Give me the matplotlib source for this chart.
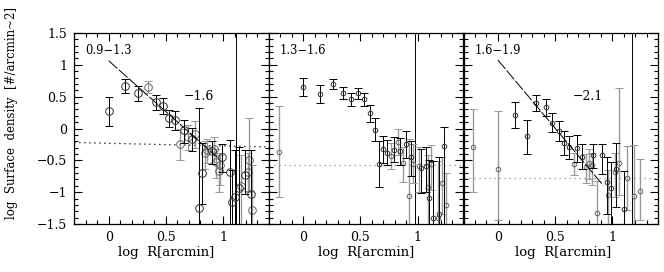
import matplotlib
matplotlib.use("Agg")
import matplotlib.pyplot as plt
from matplotlib.ticker import MultipleLocator, FixedLocator
import numpy as np

plt.rcParams['font.family'] = ['DejaVu Serif']

# ---------------- data ----------------
p1_black_x = [0.00, 0.146, 0.254, 0.414, 0.478, 0.528, 0.58, 0.66, 0.726, 0.793, 0.816, 0.90, 0.99, 1.06, 1.075, 1.105, 1.143, 1.19, 1.242]
p1_black_y = [0.27, 0.67, 0.55, 0.41, 0.36, 0.16, 0.13, -0.03, -0.16, -1.25, -0.70, -0.36, -0.44, -0.68, -1.15, -1.08, -0.94, -0.73, -1.03]
p1_black_lo = [0.23, 0.12, 0.12, 0.12, 0.14, 0.14, 0.16, 0.19, 0.20, 1.0, 0.48, 0.20, 0.25, 2.0, 2.0, 2.0, 2.0, 0.30, 2.0]
p1_black_hi = [0.23, 0.11, 0.12, 0.12, 0.12, 0.13, 0.14, 0.17, 0.17, 1.57, 0.48, 0.16, 0.20, 0.50, 0.50, 0.75, 0.65, 0.40, 0.70]
p1_gray_x = [0.342, 0.624, 0.697, 0.755, 0.84, 0.86, 0.92, 0.94, 0.962, 0.975, 1.155, 1.22, 1.23, 1.253]
p1_gray_y = [0.65, -0.24, -0.14, -0.09, -0.39, -0.34, -0.32, -0.52, -0.67, -0.58, -0.91, -0.68, -0.49, -1.28]
p1_gray_lo = [0.09, 0.26, 0.20, 0.22, 0.25, 0.20, 0.20, 0.25, 0.33, 0.30, 2.0, 0.30, 0.50, 2.0]
p1_gray_hi = [0.09, 0.24, 0.19, 0.20, 0.20, 0.18, 0.18, 0.20, 0.25, 0.20, 0.50, 0.30, 0.65, 0.70]

p2_black_x = [0.0, 0.149, 0.256, 0.347, 0.417, 0.478, 0.533, 0.58, 0.623, 0.664, 0.70, 0.735, 0.795, 0.848, 0.90, 0.94, 1.03, 1.07, 1.10, 1.134, 1.19, 1.23]
p2_black_y = [0.65, 0.54, 0.70, 0.56, 0.46, 0.55, 0.46, 0.24, -0.02, -0.56, -0.32, -0.38, -0.33, -0.35, -0.24, -0.44, -0.62, -0.59, -1.09, -1.41, -1.35, -0.27]
p2_black_lo = [0.14, 0.14, 0.08, 0.10, 0.11, 0.09, 0.10, 0.14, 0.18, 0.36, 0.22, 0.20, 0.20, 0.22, 0.22, 0.30, 0.40, 0.40, 2.0, 2.0, 2.0, 2.0]
p2_black_hi = [0.14, 0.14, 0.08, 0.09, 0.10, 0.09, 0.10, 0.13, 0.19, 0.36, 0.21, 0.20, 0.20, 0.20, 0.20, 0.25, 0.30, 0.30, 0.60, 0.90, 0.90, 0.30]
p2_gray_x = [-0.216, 0.765, 0.825, 0.87, 0.92, 0.96, 1.01, 1.09, 1.12, 1.18, 1.21, 1.25]
p2_gray_y = [-0.37, -0.43, -0.21, -0.54, -1.06, -0.55, -0.59, -0.92, -0.56, -1.41, -0.85, -1.20]
p2_gray_lo = [0.71, 0.20, 0.20, 0.30, 2.0, 0.30, 0.40, 0.60, 0.40, 2.0, 0.50, 2.0]
p2_gray_hi = [0.72, 0.20, 0.20, 0.25, 0.90, 0.30, 0.30, 0.50, 0.30, 0.90, 0.40, 0.50]

p3_black_x = [0.146, 0.254, 0.336, 0.417, 0.472, 0.531, 0.577, 0.62, 0.694, 0.734, 0.835, 0.912, 0.953, 0.99, 1.035, 1.099]
p3_black_y = [0.21, -0.12, 0.40, 0.33, 0.09, -0.04, -0.23, -0.29, -0.31, -0.44, -0.42, -0.42, -0.84, -0.93, -0.63, -1.26]
p3_black_lo = [0.20, 0.28, 0.12, 0.13, 0.15, 0.16, 0.19, 0.19, 0.21, 0.20, 0.20, 0.30, 0.50, 2.0, 0.60, 2.0]
p3_black_hi = [0.20, 0.26, 0.13, 0.13, 0.15, 0.16, 0.19, 0.18, 0.21, 0.20, 0.18, 0.18, 0.40, 0.40, 0.40, 0.60]
p3_gray_x = [-0.22, 0.0, 0.662, 0.767, 0.796, 0.82, 0.869, 0.965, 1.02, 1.06, 1.13, 1.187, 1.239]
p3_gray_y = [-0.29, -0.63, -0.56, -0.60, -0.54, -0.58, -1.32, -1.05, -0.68, -0.54, -0.78, -1.06, -0.98]
p3_gray_lo = [0.71, 0.81, 0.17, 0.25, 0.25, 0.30, 2.0, 0.50, 0.40, 0.50, 0.50, 2.0, 0.45]
p3_gray_hi = [0.59, 0.90, 0.18, 0.20, 0.22, 0.20, 0.50, 0.40, 0.30, 1.18, 0.50, 0.80, 0.50]

panel_labels = ["0.9\u22121.3", "1.3\u22121.6", "1.6\u22121.9"]
slope_labels = ["\u22121.6", None, "\u22122.1"]
fit_slope = [-1.6, None, -2.14]
fit_icpt = [1.065, None, 1.076]
fit_xmax = [0.95, None, 0.92]
bg_x = [[-0.3, 1.4], [-0.3, 1.4], [-0.3, 1.4]]
bg_y = [[-0.22, -0.29], [-0.58, -0.58], [-0.77, -0.77]]
bg_color = ['black', '0.55', '0.55']
vline_x = [1.11, 0.98, 1.17]

xticks_major = [0, 0.5, 1]
xtick_labels = ["0", "0.5", "1"]
yticks_major = [-1.5, -1, -0.5, 0, 0.5, 1, 1.5]
ytick_labels = ["\u22121.5", "\u22121", "\u22120.5", "0", "0.5", "1", "1.5"]

data = [
    (p1_black_x, p1_black_y, p1_black_lo, p1_black_hi, p1_gray_x, p1_gray_y, p1_gray_lo, p1_gray_hi),
    (p2_black_x, p2_black_y, p2_black_lo, p2_black_hi, p2_gray_x, p2_gray_y, p2_gray_lo, p2_gray_hi),
    (p3_black_x, p3_black_y, p3_black_lo, p3_black_hi, p3_gray_x, p3_gray_y, p3_gray_lo, p3_gray_hi),
]

# ---------------- figure ----------------
fig = plt.figure(figsize=(6.64, 2.72), dpi=100)
W, H = 664.0, 272.0
left_px, top_px, bot_px = 74.3, 33.0, 224.0
pw = 194.6
fs = 9.0
fs_txt = 8.3
marker_sizes = [5.5, 3.3, 3.3]
xlabel_x = [0.47, 0.50, 0.51]

for i in range(3):
    ax = fig.add_axes([(left_px + i * pw) / W, 1 - bot_px / H, pw / W, (bot_px - top_px) / H])
    bx, by, blo, bhi, gx, gy, glo, ghi = data[i]
    ax.errorbar(gx, gy, yerr=[glo, ghi], fmt='o', ms=marker_sizes[i], mfc='none', mec='0.4',
                mew=0.7, ecolor='0.6', elinewidth=1.0, capsize=2.8, capthick=1.0, zorder=3)
    ax.errorbar(bx, by, yerr=[blo, bhi], fmt='o', ms=marker_sizes[i], mfc='none', mec='0.2',
                mew=0.7, ecolor='black', elinewidth=0.7, capsize=2.8, capthick=0.7, zorder=4)
    ax.plot(bg_x[i], bg_y[i], linestyle=(0, (1, 3)), color=bg_color[i], lw=0.9, zorder=2)
    ax.axvline(vline_x[i], color='black', lw=0.7, zorder=2)
    if fit_slope[i] is not None:
        fx = np.array([0.0, fit_xmax[i]])
        ax.plot(fx, fit_icpt[i] + fit_slope[i] * fx, color='black', lw=0.7,
                linestyle=(0, (12, 2)), zorder=5)
        ax.text(0.79, 0.5, slope_labels[i], ha='center', va='center', fontsize=fs_txt + 0.7)
    ax.text(0.0, 1.22, panel_labels[i], ha='center', va='center', fontsize=fs_txt)

    ax.set_xlim(-0.3, 1.4)
    ax.set_ylim(-1.5, 1.5)
    ax.xaxis.set_major_locator(FixedLocator(xticks_major))
    ax.xaxis.set_minor_locator(MultipleLocator(0.1))
    ax.yaxis.set_major_locator(FixedLocator(yticks_major))
    ax.yaxis.set_minor_locator(MultipleLocator(0.1))
    ax.tick_params(which='both', direction='in', top=True, right=True, width=0.8, pad=5)
    ax.tick_params(which='major', length=5.5)
    ax.tick_params(which='minor', length=3)
    ax.set_xticklabels(xtick_labels, fontsize=fs)
    if i == 0:
        ax.set_yticklabels(ytick_labels, fontsize=fs)
        ax.set_ylabel("log  Surface  density  [#/arcmin~2]", fontsize=8.5)
        ax.yaxis.set_label_coords(-0.29, 0.58)
    else:
        ax.set_yticklabels([])
    ax.set_xlabel("log  R[arcmin]", fontsize=9.5)
    ax.xaxis.set_label_coords(xlabel_x[i], -0.115)
    for s in ax.spines.values():
        s.set_linewidth(0.9)

fig.savefig("out.png", dpi=100)
